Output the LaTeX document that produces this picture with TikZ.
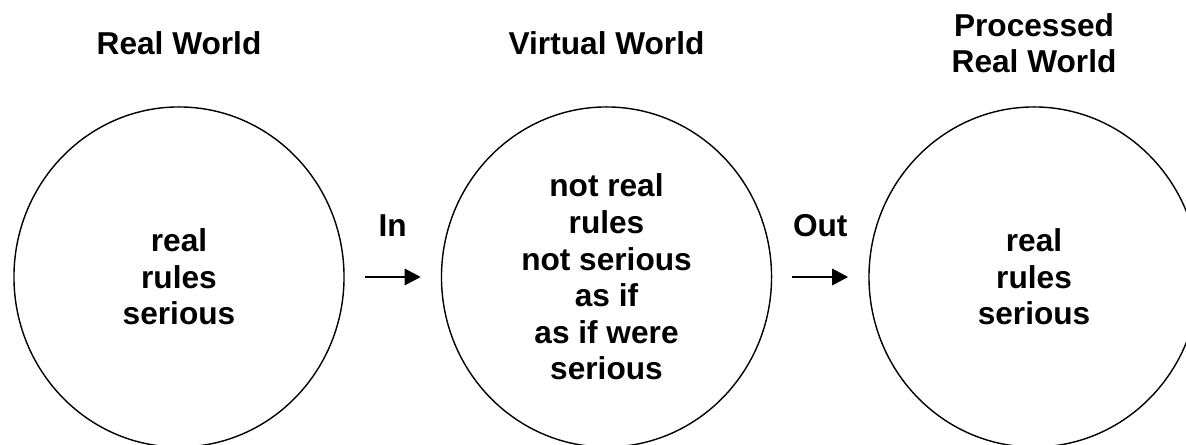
\documentclass[tikz,border=0pt]{standalone}
\usepackage{fontspec}
\setmainfont{Liberation Sans}
\usetikzlibrary{arrows.meta,positioning,shapes.geometric}

\begin{document}
\begin{tikzpicture}[
  x=0.025cm, y=0.025cm,
  every node/.style={font=\bfseries\fontsize{22.5}{26}\selectfont},
  world/.style={ellipse, draw, line width=1pt, minimum width=8.25cm,
    minimum height=8.5cm, inner sep=0pt, align=center},
  heading/.style={align=center, inner sep=0pt},
  arrow/.style={-{Triangle[length=11.5pt,width=11.5pt]}, line width=2pt,
    shorten <=0.5cm, shorten >=0.5cm}
]
  \useasboundingbox (0,0) rectangle (1186,445);
  \node[world] (real) at (179,168) {real\\rules\\serious};
  \node[world, right=2.4cm of real] (virtual) {not real\\rules\\not serious\\as if\\as if were\\serious};
  \node[world, right=2.4cm of virtual] (processed) {real\\rules\\serious};

  \node[heading] (realttl) at ([yshift=1.575cm]real.north) {Real World};
  \node[heading] (virtualttl) at ([yshift=1.575cm]virtual.north) {Virtual World};
  \node[heading] (processedttl) at ([yshift=1.575cm]processed.north) {Processed\\Real World};

  \draw[arrow] (real) -- node[above=0.975cm, inner sep=0pt] (inlbl) {In} (virtual);
  \draw[arrow] (virtual) -- node[above=0.975cm, inner sep=0pt] (outlbl) {Out} (processed);
\end{tikzpicture}
\end{document}
